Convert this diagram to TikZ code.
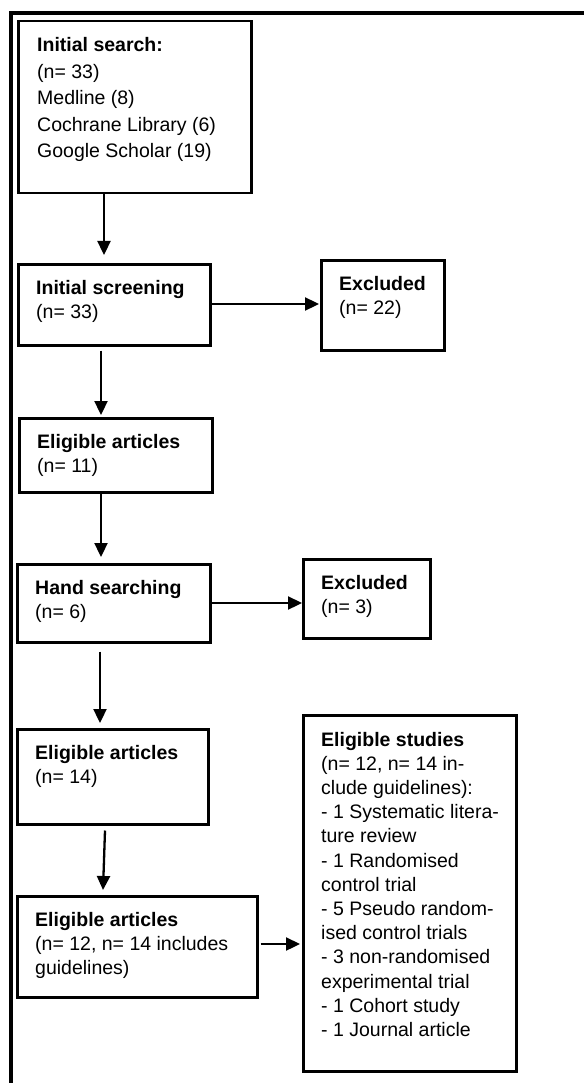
\documentclass[tikz,border=0pt]{standalone}
\usepackage{fontspec}
\setmainfont{Liberation Sans}
\usetikzlibrary{arrows.meta,calc}
\begin{document}
\begin{tikzpicture}[x=1pt,y=-1pt,
  box/.style={draw, line width=2.5pt, rectangle, inner sep=0pt, anchor=north west},
  txt/.style={anchor=base west, inner sep=0pt, font=\fontsize{19.5}{24.5}\selectfont},
  arr/.style={line width=2.3pt, -{Triangle[length=14pt,width=13pt]}}]
\useasboundingbox (0,0) rectangle (584,1083);
% outer frame (top and left sides only)
\draw[line width=3.2pt] (11,1083) -- (11,13) -- (584,13);
% boxes
\node[box, minimum width=233pt, minimum height=172pt] (b1) at (17,20) {};
\node[box, minimum width=192pt, minimum height=81pt] (b2) at (17,263) {};
\node[box, minimum width=123pt, minimum height=90pt] (e1) at (320,259) {};
\node[box, minimum width=193pt, minimum height=74pt] (b3) at (18,417) {};
\node[box, minimum width=193pt, minimum height=78pt] (b4) at (16,563) {};
\node[box, minimum width=127pt, minimum height=79pt] (e2) at (302,558) {};
\node[box, minimum width=191pt, minimum height=95pt] (b5) at (16,728) {};
\node[box, minimum width=240pt, minimum height=101pt] (b6) at (16,895) {};
\node[box, minimum width=213pt, minimum height=356pt] (b7) at (302,714) {};
% texts
\node[txt, font=\fontsize{19.5}{26.5}\selectfont] (t1) at ($(b1.north west)+(20,32)$) {\parbox[t]{230pt}{\textbf{Initial search:}\\(n= 33)\\Medline (8)\\Cochrane Library (6)\\Google Scholar (19)}};
\node[txt] (t2) at ($(b2.north west)+(19,31)$) {\parbox[t]{190pt}{\textbf{Initial screening}\\(n= 33)}};
\node[txt] (t3) at ($(e1.north west)+(19,31)$) {\parbox[t]{120pt}{\textbf{Excluded}\\(n= 22)}};
\node[txt] (t4) at ($(b3.north west)+(19,31)$) {\parbox[t]{190pt}{\textbf{Eligible articles}\\(n= 11)}};
\node[txt] (t5) at ($(b4.north west)+(19,31)$) {\parbox[t]{190pt}{\textbf{Hand searching}\\(n= 6)}};
\node[txt] (t6) at ($(e2.north west)+(19,31)$) {\parbox[t]{120pt}{\textbf{Excluded}\\(n= 3)}};
\node[txt] (t7) at ($(b5.north west)+(19,31)$) {\parbox[t]{190pt}{\textbf{Eligible articles}\\(n= 14)}};
\node[txt, font=\fontsize{19.5}{24}\selectfont] (t8) at ($(b6.north west)+(19,31)$) {\parbox[t]{240pt}{\textbf{Eligible articles}\\(n= 12, n= 14 includes\\guidelines)}};
\node[txt, font=\fontsize{19.5}{24.2}\selectfont] (t9) at ($(b7.north west)+(19,32)$) {\parbox[t]{215pt}{\textbf{Eligible studies}\\(n= 12, n= 14 in-\\clude guidelines):\\- 1 Systematic litera-\\ture review\\- 1 Randomised\\control trial\\- 5 Pseudo random-\\ised control trials\\- 3 non-randomised\\experimental trial\\- 1 Cohort study\\- 1 Journal article}};
% arrow columns
\coordinate (c1) at (104,0);
\coordinate (c2) at (101,0);
\coordinate (c4) at (100,0);
% vertical connectors
\draw[arr, shorten >=8pt] (b1.south -| c1) -- (b2.north -| c1);
\draw[arr, shorten <=4pt, shorten >=2pt] (b2.south -| c2) -- (b3.north -| c2);
\draw[arr, shorten >=6pt] (b3.south -| c2) -- (b4.north -| c2);
\draw[arr, shorten <=8pt, shorten >=5pt] (b4.south -| c4) -- (b5.north -| c4);
\draw[arr] ($(b5.south west)+(89,5)$) -- ($(b6.north west)+(87,-5)$);
% horizontal connectors
\draw[arr, shorten >=1pt] (b2.east |- 0,304) -- (e1.west |- 0,304);
\draw[arr] (b4.east |- 0,603) -- (e2.west |- 0,603);
\draw[arr, shorten <=2pt, shorten >=2pt] (b6.east |- 0,944) -- (b7.west |- 0,944);
\end{tikzpicture}
\end{document}
